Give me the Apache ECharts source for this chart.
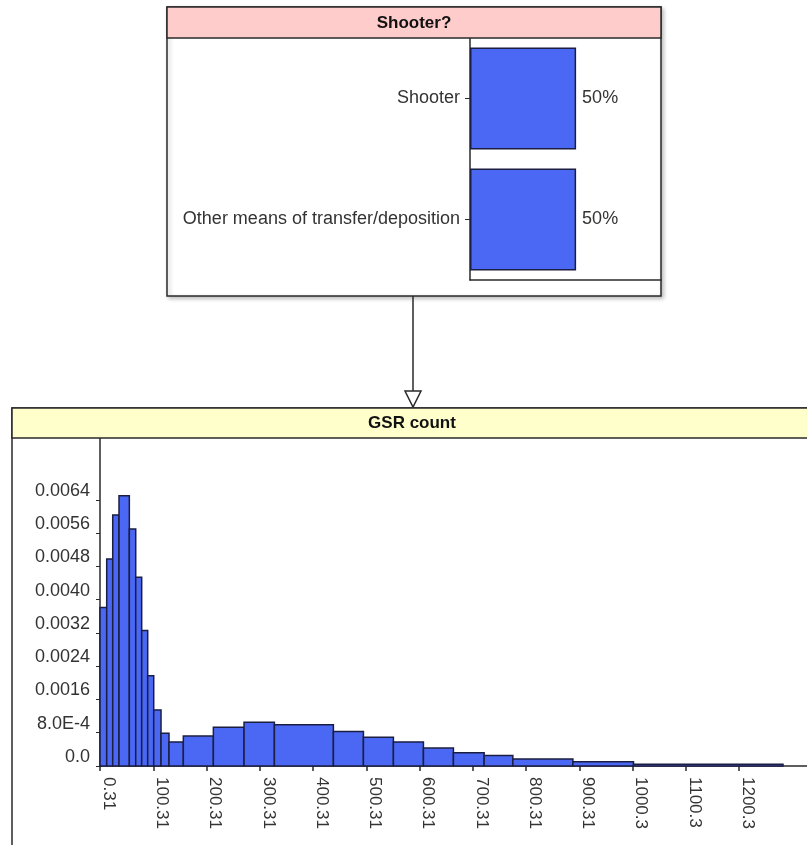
<!DOCTYPE html>
<html>
<head>
<meta charset="utf-8">
<script src="https://cdn.jsdelivr.net/npm/echarts@6/dist/echarts.min.js"></script>
<style>
html, body { margin: 0; padding: 0; background: #fff; }
#chart { width: 807px; height: 845px; }
</style>
</head>
<body>
<div id="chart"></div>
<script>
// node "Shooter?"
const shooterStates = ['Shooter', 'Other means of transfer/deposition'];
const shooterProb = [50, 50];

// node "GSR count": bin edges and density of each bin
const gsrEdges = [0.31, 12.9, 24.2, 36, 55.4, 67.4, 78.6, 89.9, 101.2, 114.9, 129.9, 156.8,
	213.2, 270.8, 327.8, 438.6, 495, 551.3, 607.7, 664, 721.7, 775.6, 888.4, 1002.2, 1282.9];
const gsrDensity = [0.00381, 0.00498, 0.00604, 0.00650, 0.00570, 0.00454, 0.00326, 0.00217,
	0.00135, 0.00079, 0.00058, 0.00072, 0.00093, 0.00105, 0.00099, 0.00083, 0.00069, 0.00058,
	0.00043, 0.00032, 0.00025, 0.00017, 0.00010, 0.00004];

const gsrTickLabels = ['0.31', '100.31', '200.31', '300.31', '400.31', '500.31', '600.31',
	'700.31', '800.31', '900.31', '1000.3', '1100.3', '1200.3'];
const densityTickLabels = ['0.0', '8.0E-4', '0.0016', '0.0024', '0.0032', '0.0040', '0.0048',
	'0.0056', '0.0064'];

const font = "'Liberation Sans', Arial, sans-serif";
const barColor = '#4b68f4';
const edgeColor = '#1b1e42';
const lineColor = '#2a2a2a';
const textColor = '#333';

let myChart = echarts.init(document.getElementById('chart'));

let bins = [];
for (let i = 0; i < gsrDensity.length; i++) {
	bins.push([gsrEdges[i], gsrEdges[i + 1], gsrDensity[i]]);
}

// tick positions: first tick + k * step, one per label
let gsrTicks = gsrTickLabels.map((s, k) => Math.round((0.31 + k * 100) * 100) / 100);
let densityTicks = densityTickLabels.map((s, k) => Math.round(k * 8) / 10000);

function tickLabel(list, start, step) {
	return function (v) {
		let k = Math.round((v - start) / step);
		return list[k] || '';
	};
}

let option = {
	animation: false,
	textStyle: { fontFamily: font },
	grid: [{
		left: 470, top: 38, width: 191, height: 242
	}, {
		left: 100, top: 438, right: 0, height: 328
	}],
	xAxis: [{
		gridIndex: 0,
		type: 'value',
		min: 0,
		max: 90,
		axisLine: { show: true, lineStyle: { color: lineColor, width: 1.5 } },
		axisTick: { show: false },
		axisLabel: { show: false },
		splitLine: { show: false }
	}, {
		gridIndex: 1,
		type: 'value',
		min: 0.31,
		max: 1328,
		axisLine: { show: true, onZero: false, lineStyle: { color: lineColor, width: 1.5 } },
		axisTick: { show: true, length: 5, customValues: gsrTicks, lineStyle: { color: lineColor, width: 1.5 } },
		axisLabel: {
			rotate: -90,
			margin: 11,
			fontSize: 17,
			color: textColor,
			verticalAlign: 'bottom',
			customValues: gsrTicks,
			formatter: tickLabel(gsrTickLabels, 0.31, 100)
		},
		splitLine: { show: false }
	}],
	yAxis: [{
		gridIndex: 0,
		type: 'category',
		inverse: true,
		data: shooterStates,
		axisLine: { show: true, lineStyle: { color: lineColor, width: 1.5 } },
		axisTick: { show: true, alignWithLabel: true, length: 5, lineStyle: { color: lineColor } },
		axisLabel: { fontSize: 18, color: textColor, margin: 10 },
		splitLine: { show: false }
	}, {
		gridIndex: 1,
		type: 'value',
		min: 0,
		max: 0.00789,
		axisLine: { show: true, onZero: false, lineStyle: { color: lineColor, width: 1.5 } },
		axisTick: { show: true, length: 4, customValues: densityTicks, lineStyle: { color: lineColor } },
		axisLabel: {
			fontSize: 18,
			color: textColor,
			margin: 10,
			verticalAlign: 'bottom',
			customValues: densityTicks,
			formatter: tickLabel(densityTickLabels, 0, 0.0008)
		},
		splitLine: { show: false }
	}],
	series: [{
		type: 'bar',
		xAxisIndex: 0,
		yAxisIndex: 0,
		data: shooterProb,
		barWidth: 102,
		itemStyle: { color: barColor, borderColor: edgeColor, borderWidth: 1.5 },
		label: {
			show: true,
			position: 'right',
			distance: 6,
			formatter: '{c}%',
			fontSize: 18,
			color: textColor
		}
	}, {
		type: 'custom',
		xAxisIndex: 1,
		yAxisIndex: 1,
		data: bins,
		encode: { x: [0, 1], y: 2 },
		renderItem: function (params, api) {
			let p0 = api.coord([api.value(0), api.value(2)]);
			let p1 = api.coord([api.value(1), 0]);
			return {
				type: 'rect',
				shape: { x: p0[0], y: p0[1], width: p1[0] - p0[0], height: p1[1] - p0[1] },
				style: { fill: barColor, stroke: edgeColor, lineWidth: 1.5 }
			};
		}
	}],
	graphic: [
		// node boxes
		{
			type: 'rect', z: 0,
			shape: { x: 167, y: 7, width: 494, height: 289 },
			style: { fill: '#fff', stroke: lineColor, lineWidth: 1.5, shadowBlur: 4, shadowOffsetX: 2, shadowOffsetY: 2, shadowColor: 'rgba(0,0,0,0.25)' }
		},
		{
			type: 'rect', z: 10,
			shape: { x: 167, y: 7, width: 494, height: 31 },
			style: { fill: '#ffcccc', stroke: lineColor, lineWidth: 1.5 }
		},
		{
			type: 'text', z: 11, x: 414, y: 23,
			style: { text: 'Shooter?', font: 'bold 17px ' + font, fill: '#111', align: 'center', verticalAlign: 'middle' }
		},
		{
			type: 'rect', z: 0,
			shape: { x: 12, y: 408, width: 900, height: 600 },
			style: { fill: '#fff', stroke: lineColor, lineWidth: 1.5 }
		},
		{
			type: 'rect', z: 10,
			shape: { x: 12, y: 408, width: 900, height: 30 },
			style: { fill: '#ffffcc', stroke: lineColor, lineWidth: 1.5 }
		},
		{
			type: 'text', z: 11, x: 412, y: 423,
			style: { text: 'GSR count', font: 'bold 17px ' + font, fill: '#111', align: 'center', verticalAlign: 'middle' }
		},
		// link arrow
		{
			type: 'line', z: 5,
			shape: { x1: 413, y1: 296, x2: 413, y2: 391 },
			style: { stroke: lineColor, lineWidth: 1.5 }
		},
		{
			type: 'polygon', z: 5,
			shape: { points: [[405, 391], [421, 391], [413, 407]] },
			style: { fill: '#fff', stroke: lineColor, lineWidth: 1.5 }
		}
	]
};
myChart.setOption(option);
</script>
</body>
</html>
